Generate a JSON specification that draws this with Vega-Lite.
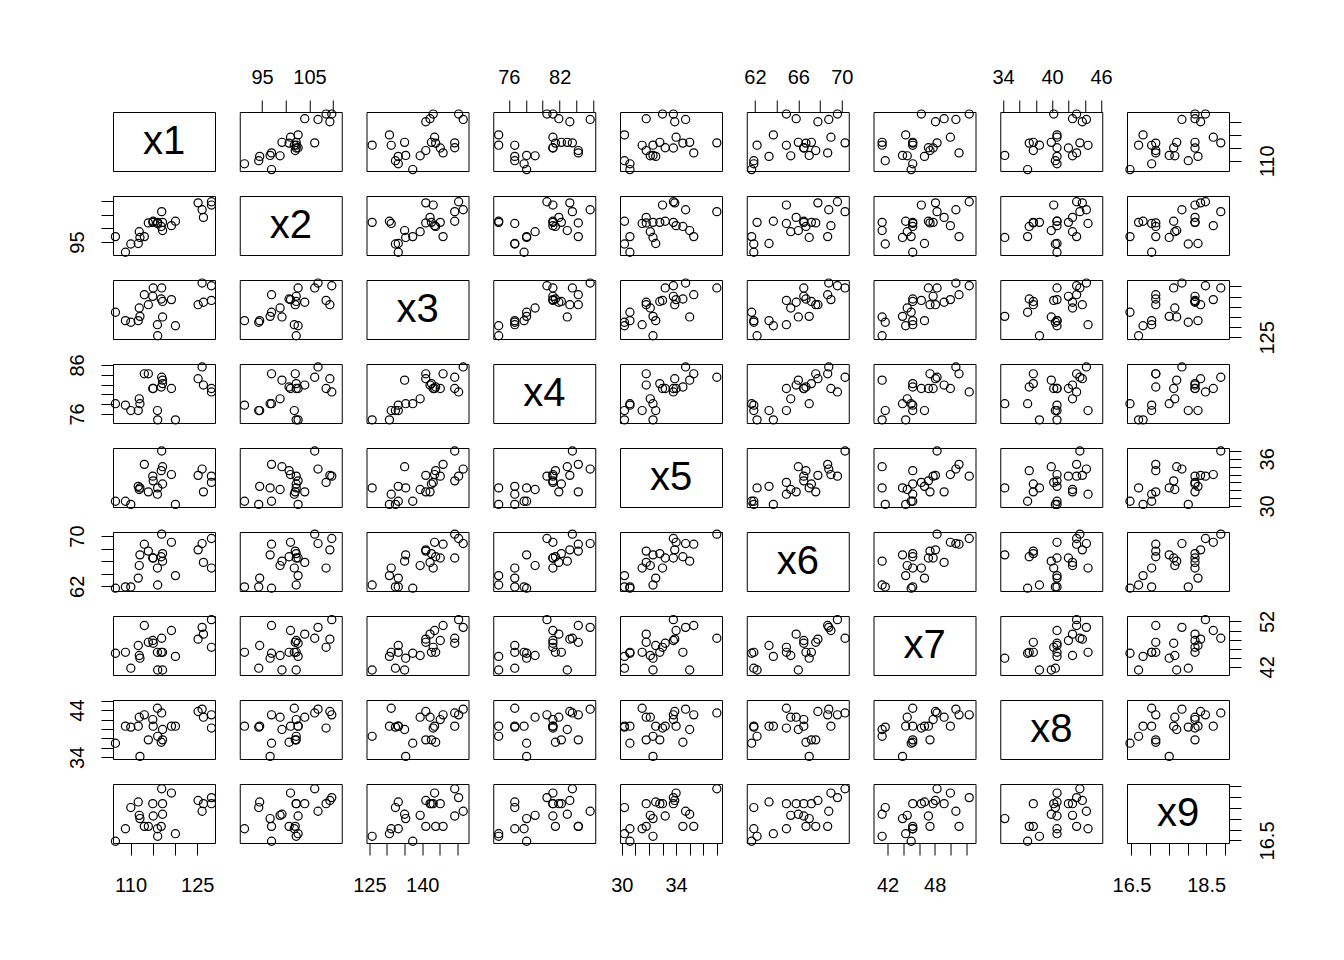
{
"$schema":"https://vega.github.io/schema/vega-lite/v6.json",
"background":"white",
"padding":{"left":66,"top":66,"right":5,"bottom":5},
"config":{
"view":{"stroke":"black","strokeWidth":1,"continuousWidth":102,"continuousHeight":59},
"point":{"shape":"circle","size":66,"filled":false,"color":"black","strokeWidth":1.2,"opacity":1},
"text":{"fontSize":40,"font":"Liberation Sans","color":"black"},
"axis":{"grid":false,"domain":false,"tickColor":"black","tickWidth":1,"tickSize":12,"labelFontSize":20,"labelFont":"Liberation Sans","labelColor":"black","labelOverlap":false,"labelFlush":false,"labelBound":false},
"axisLeft":{"labelAngle":-90,"labelAlign":"center","labelBaseline":"bottom","labelPadding":14},
"axisRight":{"labelAngle":-90,"labelAlign":"center","labelBaseline":"top","labelPadding":16},
"axisTop":{"labelPadding":13},
"axisBottom":{"labelPadding":20}
},
"data":{"values":[
{"x1":106.6,"x2":97.0,"x3":137.3,"x4":78.1,"x5":30.6,"x6":61.7,"x7":45.0,"x8":37.0,"x9":16.46},
{"x1":108.85,"x2":91.3,"x3":133.2,"x4":77.8,"x5":30.6,"x6":61.9,"x7":45.2,"x8":40.6,"x9":17.04},
{"x1":110.06,"x2":94.3,"x3":132.4,"x4":76.7,"x5":30.2,"x6":61.9,"x7":41.7,"x8":40.4,"x9":18.02},
{"x1":111.73,"x2":94.5,"x3":133.2,"x4":76.7,"x5":32.5,"x6":63.3,"x7":46.7,"x8":40.6,"x9":18.28},
{"x1":111.96,"x2":98.8,"x3":139.4,"x4":79.1,"x5":32.1,"x6":65.3,"x7":44.5,"x8":42.5,"x9":17.66},
{"x1":112.11,"x2":96.7,"x3":135.3,"x4":78.1,"x5":32.3,"x6":67.0,"x7":43.9,"x8":34.2,"x9":17.51},
{"x1":113.1,"x2":97.0,"x3":145.9,"x4":84.2,"x5":35.3,"x6":68.7,"x7":51.1,"x8":43.0,"x9":17.15},
{"x1":114.0,"x2":102.0,"x3":141.0,"x4":84.2,"x5":31.8,"x6":67.6,"x7":47.4,"x8":37.7,"x9":17.15},
{"x1":115.0,"x2":102.2,"x3":145.1,"x4":81.2,"x5":33.8,"x6":66.5,"x7":47.8,"x8":42.0,"x9":18.2},
{"x1":115.1,"x2":102.6,"x3":149.2,"x4":81.2,"x5":33.2,"x6":66.5,"x7":47.2,"x8":40.6,"x9":17.63},
{"x1":116.05,"x2":101.8,"x3":131.2,"x4":76.7,"x5":31.5,"x6":64.9,"x7":45.2,"x8":44.4,"x9":17.04},
{"x1":116.1,"x2":102.2,"x3":125.8,"x4":74.8,"x5":32.3,"x6":62.2,"x7":41.3,"x8":38.45,"x9":16.69},
{"x1":116.9,"x2":100.7,"x3":143.8,"x4":81.5,"x5":34.5,"x6":66.7,"x7":45.2,"x8":37.2,"x9":17.15},
{"x1":117.0,"x2":106.1,"x3":149.2,"x4":83.5,"x5":37.0,"x6":70.3,"x7":48.3,"x8":43.4,"x9":18.89},
{"x1":117.2,"x2":99.2,"x3":135.0,"x4":82.9,"x5":35.0,"x6":66.0,"x7":41.3,"x8":39.9,"x9":17.71},
{"x1":117.2,"x2":102.2,"x3":142.6,"x4":82.2,"x5":32.8,"x6":67.2,"x7":45.2,"x8":37.7,"x9":18.2},
{"x1":119.2,"x2":101.0,"x3":143.5,"x4":81.2,"x5":34.0,"x6":69.0,"x7":50.0,"x8":40.6,"x9":18.69},
{"x1":120.1,"x2":102.6,"x3":130.7,"x4":74.8,"x5":30.2,"x6":63.7,"x7":44.3,"x8":40.6,"x9":16.81},
{"x1":125.2,"x2":109.3,"x3":141.0,"x4":83.2,"x5":33.9,"x6":67.8,"x7":48.1,"x8":43.7,"x9":18.35},
{"x1":126.1,"x2":106.8,"x3":151.6,"x4":85.6,"x5":34.7,"x6":68.8,"x7":50.7,"x8":44.2,"x9":17.85},
{"x1":126.4,"x2":104.0,"x3":142.2,"x4":81.9,"x5":31.8,"x6":65.8,"x7":49.2,"x8":42.5,"x9":18.2},
{"x1":128.2,"x2":109.7,"x3":150.3,"x4":80.5,"x5":33.8,"x6":69.6,"x7":52.4,"x8":43.0,"x9":18.48},
{"x1":128.2,"x2":108.5,"x3":143.1,"x4":81.2,"x5":33.0,"x6":64.9,"x7":46.3,"x8":40.2,"x9":18.2}
]},
"columns":9,
"spacing":{"row":25,"column":24.75},
"bounds":"flush",
"concat":[
{"data":{"values":[{"t":"x1","c":0.5}]},"mark":"text","encoding":{"text":{"field":"t"},"x":{"field":"c","type":"quantitative","scale":{"domain":[0,1]},"axis":null},"y":{"field":"c","type":"quantitative","scale":{"domain":[0,1]},"axis":null}}},
{"mark":"point","encoding":{"x":{"field":"x2","type":"quantitative","scale":{"domain":[90.3,111.8],"nice":false,"zero":false},"axis":{"orient":"top","title":null,"values":[95,100,105,110],"labelExpr":"datum.value==95||datum.value==105?datum.label:''"}},"y":{"field":"x1","type":"quantitative","scale":{"domain":[106.05,129],"nice":false,"zero":false},"axis":null}}},
{"mark":"point","encoding":{"x":{"field":"x3","type":"quantitative","scale":{"domain":[124.2,153.1],"nice":false,"zero":false},"axis":null},"y":{"field":"x1","type":"quantitative","scale":{"domain":[106.05,129],"nice":false,"zero":false},"axis":null}}},
{"mark":"point","encoding":{"x":{"field":"x4","type":"quantitative","scale":{"domain":[74.16,86.2],"nice":false,"zero":false},"axis":{"orient":"top","title":null,"values":[76,78,80,82,84,86],"labelExpr":"datum.value==76||datum.value==82?datum.label:''"}},"y":{"field":"x1","type":"quantitative","scale":{"domain":[106.05,129],"nice":false,"zero":false},"axis":null}}},
{"mark":"point","encoding":{"x":{"field":"x5","type":"quantitative","scale":{"domain":[29.87,37.38],"nice":false,"zero":false},"axis":null},"y":{"field":"x1","type":"quantitative","scale":{"domain":[106.05,129],"nice":false,"zero":false},"axis":null}}},
{"mark":"point","encoding":{"x":{"field":"x6","type":"quantitative","scale":{"domain":[61.25,70.64],"nice":false,"zero":false},"axis":{"orient":"top","title":null,"values":[62,64,66,68,70],"labelExpr":"datum.value==62||datum.value==66||datum.value==70?datum.label:''"}},"y":{"field":"x1","type":"quantitative","scale":{"domain":[106.05,129],"nice":false,"zero":false},"axis":null}}},
{"mark":"point","encoding":{"x":{"field":"x7","type":"quantitative","scale":{"domain":[40.2,53.2],"nice":false,"zero":false},"axis":null},"y":{"field":"x1","type":"quantitative","scale":{"domain":[106.05,129],"nice":false,"zero":false},"axis":null}}},
{"mark":"point","encoding":{"x":{"field":"x8","type":"quantitative","scale":{"domain":[33.65,46.14],"nice":false,"zero":false},"axis":{"orient":"top","title":null,"values":[34,36,38,40,42,44,46],"labelExpr":"datum.value==34||datum.value==40||datum.value==46?datum.label:''"}},"y":{"field":"x1","type":"quantitative","scale":{"domain":[106.05,129],"nice":false,"zero":false},"axis":null}}},
{"mark":"point","encoding":{"x":{"field":"x9","type":"quantitative","scale":{"domain":[16.38,19.11],"nice":false,"zero":false},"axis":null},"y":{"field":"x1","type":"quantitative","scale":{"domain":[106.05,129],"nice":false,"zero":false},"axis":{"orient":"right","title":null,"values":[110,115,120,125],"labelExpr":"datum.value==110?datum.label:''"}}}},

{"mark":"point","encoding":{"x":{"field":"x1","type":"quantitative","scale":{"domain":[106.05,129],"nice":false,"zero":false},"axis":null},"y":{"field":"x2","type":"quantitative","scale":{"domain":[90.3,111.8],"nice":false,"zero":false},"axis":{"orient":"left","title":null,"values":[95,100,105,110],"labelExpr":"datum.value==95?datum.label:''"}}}},
{"data":{"values":[{"t":"x2","c":0.5}]},"mark":"text","encoding":{"text":{"field":"t"},"x":{"field":"c","type":"quantitative","scale":{"domain":[0,1]},"axis":null},"y":{"field":"c","type":"quantitative","scale":{"domain":[0,1]},"axis":null}}},
{"mark":"point","encoding":{"x":{"field":"x3","type":"quantitative","scale":{"domain":[124.2,153.1],"nice":false,"zero":false},"axis":null},"y":{"field":"x2","type":"quantitative","scale":{"domain":[90.3,111.8],"nice":false,"zero":false},"axis":null}}},
{"mark":"point","encoding":{"x":{"field":"x4","type":"quantitative","scale":{"domain":[74.16,86.2],"nice":false,"zero":false},"axis":null},"y":{"field":"x2","type":"quantitative","scale":{"domain":[90.3,111.8],"nice":false,"zero":false},"axis":null}}},
{"mark":"point","encoding":{"x":{"field":"x5","type":"quantitative","scale":{"domain":[29.87,37.38],"nice":false,"zero":false},"axis":null},"y":{"field":"x2","type":"quantitative","scale":{"domain":[90.3,111.8],"nice":false,"zero":false},"axis":null}}},
{"mark":"point","encoding":{"x":{"field":"x6","type":"quantitative","scale":{"domain":[61.25,70.64],"nice":false,"zero":false},"axis":null},"y":{"field":"x2","type":"quantitative","scale":{"domain":[90.3,111.8],"nice":false,"zero":false},"axis":null}}},
{"mark":"point","encoding":{"x":{"field":"x7","type":"quantitative","scale":{"domain":[40.2,53.2],"nice":false,"zero":false},"axis":null},"y":{"field":"x2","type":"quantitative","scale":{"domain":[90.3,111.8],"nice":false,"zero":false},"axis":null}}},
{"mark":"point","encoding":{"x":{"field":"x8","type":"quantitative","scale":{"domain":[33.65,46.14],"nice":false,"zero":false},"axis":null},"y":{"field":"x2","type":"quantitative","scale":{"domain":[90.3,111.8],"nice":false,"zero":false},"axis":null}}},
{"mark":"point","encoding":{"x":{"field":"x9","type":"quantitative","scale":{"domain":[16.38,19.11],"nice":false,"zero":false},"axis":null},"y":{"field":"x2","type":"quantitative","scale":{"domain":[90.3,111.8],"nice":false,"zero":false},"axis":null}}},

{"mark":"point","encoding":{"x":{"field":"x1","type":"quantitative","scale":{"domain":[106.05,129],"nice":false,"zero":false},"axis":null},"y":{"field":"x3","type":"quantitative","scale":{"domain":[124.2,153.1],"nice":false,"zero":false},"axis":null}}},
{"mark":"point","encoding":{"x":{"field":"x2","type":"quantitative","scale":{"domain":[90.3,111.8],"nice":false,"zero":false},"axis":null},"y":{"field":"x3","type":"quantitative","scale":{"domain":[124.2,153.1],"nice":false,"zero":false},"axis":null}}},
{"data":{"values":[{"t":"x3","c":0.5}]},"mark":"text","encoding":{"text":{"field":"t"},"x":{"field":"c","type":"quantitative","scale":{"domain":[0,1]},"axis":null},"y":{"field":"c","type":"quantitative","scale":{"domain":[0,1]},"axis":null}}},
{"mark":"point","encoding":{"x":{"field":"x4","type":"quantitative","scale":{"domain":[74.16,86.2],"nice":false,"zero":false},"axis":null},"y":{"field":"x3","type":"quantitative","scale":{"domain":[124.2,153.1],"nice":false,"zero":false},"axis":null}}},
{"mark":"point","encoding":{"x":{"field":"x5","type":"quantitative","scale":{"domain":[29.87,37.38],"nice":false,"zero":false},"axis":null},"y":{"field":"x3","type":"quantitative","scale":{"domain":[124.2,153.1],"nice":false,"zero":false},"axis":null}}},
{"mark":"point","encoding":{"x":{"field":"x6","type":"quantitative","scale":{"domain":[61.25,70.64],"nice":false,"zero":false},"axis":null},"y":{"field":"x3","type":"quantitative","scale":{"domain":[124.2,153.1],"nice":false,"zero":false},"axis":null}}},
{"mark":"point","encoding":{"x":{"field":"x7","type":"quantitative","scale":{"domain":[40.2,53.2],"nice":false,"zero":false},"axis":null},"y":{"field":"x3","type":"quantitative","scale":{"domain":[124.2,153.1],"nice":false,"zero":false},"axis":null}}},
{"mark":"point","encoding":{"x":{"field":"x8","type":"quantitative","scale":{"domain":[33.65,46.14],"nice":false,"zero":false},"axis":null},"y":{"field":"x3","type":"quantitative","scale":{"domain":[124.2,153.1],"nice":false,"zero":false},"axis":null}}},
{"mark":"point","encoding":{"x":{"field":"x9","type":"quantitative","scale":{"domain":[16.38,19.11],"nice":false,"zero":false},"axis":null},"y":{"field":"x3","type":"quantitative","scale":{"domain":[124.2,153.1],"nice":false,"zero":false},"axis":{"orient":"right","title":null,"values":[125,130,135,140,145,150],"labelExpr":"datum.value==125?datum.label:''"}}}},

{"mark":"point","encoding":{"x":{"field":"x1","type":"quantitative","scale":{"domain":[106.05,129],"nice":false,"zero":false},"axis":null},"y":{"field":"x4","type":"quantitative","scale":{"domain":[74.16,86.2],"nice":false,"zero":false},"axis":{"orient":"left","title":null,"values":[76,78,80,82,84,86],"labelExpr":"datum.value==76||datum.value==86?datum.label:''"}}}},
{"mark":"point","encoding":{"x":{"field":"x2","type":"quantitative","scale":{"domain":[90.3,111.8],"nice":false,"zero":false},"axis":null},"y":{"field":"x4","type":"quantitative","scale":{"domain":[74.16,86.2],"nice":false,"zero":false},"axis":null}}},
{"mark":"point","encoding":{"x":{"field":"x3","type":"quantitative","scale":{"domain":[124.2,153.1],"nice":false,"zero":false},"axis":null},"y":{"field":"x4","type":"quantitative","scale":{"domain":[74.16,86.2],"nice":false,"zero":false},"axis":null}}},
{"data":{"values":[{"t":"x4","c":0.5}]},"mark":"text","encoding":{"text":{"field":"t"},"x":{"field":"c","type":"quantitative","scale":{"domain":[0,1]},"axis":null},"y":{"field":"c","type":"quantitative","scale":{"domain":[0,1]},"axis":null}}},
{"mark":"point","encoding":{"x":{"field":"x5","type":"quantitative","scale":{"domain":[29.87,37.38],"nice":false,"zero":false},"axis":null},"y":{"field":"x4","type":"quantitative","scale":{"domain":[74.16,86.2],"nice":false,"zero":false},"axis":null}}},
{"mark":"point","encoding":{"x":{"field":"x6","type":"quantitative","scale":{"domain":[61.25,70.64],"nice":false,"zero":false},"axis":null},"y":{"field":"x4","type":"quantitative","scale":{"domain":[74.16,86.2],"nice":false,"zero":false},"axis":null}}},
{"mark":"point","encoding":{"x":{"field":"x7","type":"quantitative","scale":{"domain":[40.2,53.2],"nice":false,"zero":false},"axis":null},"y":{"field":"x4","type":"quantitative","scale":{"domain":[74.16,86.2],"nice":false,"zero":false},"axis":null}}},
{"mark":"point","encoding":{"x":{"field":"x8","type":"quantitative","scale":{"domain":[33.65,46.14],"nice":false,"zero":false},"axis":null},"y":{"field":"x4","type":"quantitative","scale":{"domain":[74.16,86.2],"nice":false,"zero":false},"axis":null}}},
{"mark":"point","encoding":{"x":{"field":"x9","type":"quantitative","scale":{"domain":[16.38,19.11],"nice":false,"zero":false},"axis":null},"y":{"field":"x4","type":"quantitative","scale":{"domain":[74.16,86.2],"nice":false,"zero":false},"axis":null}}},

{"mark":"point","encoding":{"x":{"field":"x1","type":"quantitative","scale":{"domain":[106.05,129],"nice":false,"zero":false},"axis":null},"y":{"field":"x5","type":"quantitative","scale":{"domain":[29.87,37.38],"nice":false,"zero":false},"axis":null}}},
{"mark":"point","encoding":{"x":{"field":"x2","type":"quantitative","scale":{"domain":[90.3,111.8],"nice":false,"zero":false},"axis":null},"y":{"field":"x5","type":"quantitative","scale":{"domain":[29.87,37.38],"nice":false,"zero":false},"axis":null}}},
{"mark":"point","encoding":{"x":{"field":"x3","type":"quantitative","scale":{"domain":[124.2,153.1],"nice":false,"zero":false},"axis":null},"y":{"field":"x5","type":"quantitative","scale":{"domain":[29.87,37.38],"nice":false,"zero":false},"axis":null}}},
{"mark":"point","encoding":{"x":{"field":"x4","type":"quantitative","scale":{"domain":[74.16,86.2],"nice":false,"zero":false},"axis":null},"y":{"field":"x5","type":"quantitative","scale":{"domain":[29.87,37.38],"nice":false,"zero":false},"axis":null}}},
{"data":{"values":[{"t":"x5","c":0.5}]},"mark":"text","encoding":{"text":{"field":"t"},"x":{"field":"c","type":"quantitative","scale":{"domain":[0,1]},"axis":null},"y":{"field":"c","type":"quantitative","scale":{"domain":[0,1]},"axis":null}}},
{"mark":"point","encoding":{"x":{"field":"x6","type":"quantitative","scale":{"domain":[61.25,70.64],"nice":false,"zero":false},"axis":null},"y":{"field":"x5","type":"quantitative","scale":{"domain":[29.87,37.38],"nice":false,"zero":false},"axis":null}}},
{"mark":"point","encoding":{"x":{"field":"x7","type":"quantitative","scale":{"domain":[40.2,53.2],"nice":false,"zero":false},"axis":null},"y":{"field":"x5","type":"quantitative","scale":{"domain":[29.87,37.38],"nice":false,"zero":false},"axis":null}}},
{"mark":"point","encoding":{"x":{"field":"x8","type":"quantitative","scale":{"domain":[33.65,46.14],"nice":false,"zero":false},"axis":null},"y":{"field":"x5","type":"quantitative","scale":{"domain":[29.87,37.38],"nice":false,"zero":false},"axis":null}}},
{"mark":"point","encoding":{"x":{"field":"x9","type":"quantitative","scale":{"domain":[16.38,19.11],"nice":false,"zero":false},"axis":null},"y":{"field":"x5","type":"quantitative","scale":{"domain":[29.87,37.38],"nice":false,"zero":false},"axis":{"orient":"right","title":null,"values":[30,31,32,33,34,35,36,37],"labelExpr":"datum.value==30||datum.value==36?datum.label:''"}}}},

{"mark":"point","encoding":{"x":{"field":"x1","type":"quantitative","scale":{"domain":[106.05,129],"nice":false,"zero":false},"axis":null},"y":{"field":"x6","type":"quantitative","scale":{"domain":[61.25,70.64],"nice":false,"zero":false},"axis":{"orient":"left","title":null,"values":[62,64,66,68,70],"labelExpr":"datum.value==62||datum.value==70?datum.label:''"}}}},
{"mark":"point","encoding":{"x":{"field":"x2","type":"quantitative","scale":{"domain":[90.3,111.8],"nice":false,"zero":false},"axis":null},"y":{"field":"x6","type":"quantitative","scale":{"domain":[61.25,70.64],"nice":false,"zero":false},"axis":null}}},
{"mark":"point","encoding":{"x":{"field":"x3","type":"quantitative","scale":{"domain":[124.2,153.1],"nice":false,"zero":false},"axis":null},"y":{"field":"x6","type":"quantitative","scale":{"domain":[61.25,70.64],"nice":false,"zero":false},"axis":null}}},
{"mark":"point","encoding":{"x":{"field":"x4","type":"quantitative","scale":{"domain":[74.16,86.2],"nice":false,"zero":false},"axis":null},"y":{"field":"x6","type":"quantitative","scale":{"domain":[61.25,70.64],"nice":false,"zero":false},"axis":null}}},
{"mark":"point","encoding":{"x":{"field":"x5","type":"quantitative","scale":{"domain":[29.87,37.38],"nice":false,"zero":false},"axis":null},"y":{"field":"x6","type":"quantitative","scale":{"domain":[61.25,70.64],"nice":false,"zero":false},"axis":null}}},
{"data":{"values":[{"t":"x6","c":0.5}]},"mark":"text","encoding":{"text":{"field":"t"},"x":{"field":"c","type":"quantitative","scale":{"domain":[0,1]},"axis":null},"y":{"field":"c","type":"quantitative","scale":{"domain":[0,1]},"axis":null}}},
{"mark":"point","encoding":{"x":{"field":"x7","type":"quantitative","scale":{"domain":[40.2,53.2],"nice":false,"zero":false},"axis":null},"y":{"field":"x6","type":"quantitative","scale":{"domain":[61.25,70.64],"nice":false,"zero":false},"axis":null}}},
{"mark":"point","encoding":{"x":{"field":"x8","type":"quantitative","scale":{"domain":[33.65,46.14],"nice":false,"zero":false},"axis":null},"y":{"field":"x6","type":"quantitative","scale":{"domain":[61.25,70.64],"nice":false,"zero":false},"axis":null}}},
{"mark":"point","encoding":{"x":{"field":"x9","type":"quantitative","scale":{"domain":[16.38,19.11],"nice":false,"zero":false},"axis":null},"y":{"field":"x6","type":"quantitative","scale":{"domain":[61.25,70.64],"nice":false,"zero":false},"axis":null}}},

{"mark":"point","encoding":{"x":{"field":"x1","type":"quantitative","scale":{"domain":[106.05,129],"nice":false,"zero":false},"axis":null},"y":{"field":"x7","type":"quantitative","scale":{"domain":[40.2,53.2],"nice":false,"zero":false},"axis":null}}},
{"mark":"point","encoding":{"x":{"field":"x2","type":"quantitative","scale":{"domain":[90.3,111.8],"nice":false,"zero":false},"axis":null},"y":{"field":"x7","type":"quantitative","scale":{"domain":[40.2,53.2],"nice":false,"zero":false},"axis":null}}},
{"mark":"point","encoding":{"x":{"field":"x3","type":"quantitative","scale":{"domain":[124.2,153.1],"nice":false,"zero":false},"axis":null},"y":{"field":"x7","type":"quantitative","scale":{"domain":[40.2,53.2],"nice":false,"zero":false},"axis":null}}},
{"mark":"point","encoding":{"x":{"field":"x4","type":"quantitative","scale":{"domain":[74.16,86.2],"nice":false,"zero":false},"axis":null},"y":{"field":"x7","type":"quantitative","scale":{"domain":[40.2,53.2],"nice":false,"zero":false},"axis":null}}},
{"mark":"point","encoding":{"x":{"field":"x5","type":"quantitative","scale":{"domain":[29.87,37.38],"nice":false,"zero":false},"axis":null},"y":{"field":"x7","type":"quantitative","scale":{"domain":[40.2,53.2],"nice":false,"zero":false},"axis":null}}},
{"mark":"point","encoding":{"x":{"field":"x6","type":"quantitative","scale":{"domain":[61.25,70.64],"nice":false,"zero":false},"axis":null},"y":{"field":"x7","type":"quantitative","scale":{"domain":[40.2,53.2],"nice":false,"zero":false},"axis":null}}},
{"data":{"values":[{"t":"x7","c":0.5}]},"mark":"text","encoding":{"text":{"field":"t"},"x":{"field":"c","type":"quantitative","scale":{"domain":[0,1]},"axis":null},"y":{"field":"c","type":"quantitative","scale":{"domain":[0,1]},"axis":null}}},
{"mark":"point","encoding":{"x":{"field":"x8","type":"quantitative","scale":{"domain":[33.65,46.14],"nice":false,"zero":false},"axis":null},"y":{"field":"x7","type":"quantitative","scale":{"domain":[40.2,53.2],"nice":false,"zero":false},"axis":null}}},
{"mark":"point","encoding":{"x":{"field":"x9","type":"quantitative","scale":{"domain":[16.38,19.11],"nice":false,"zero":false},"axis":null},"y":{"field":"x7","type":"quantitative","scale":{"domain":[40.2,53.2],"nice":false,"zero":false},"axis":{"orient":"right","title":null,"values":[42,44,46,48,50,52],"labelExpr":"datum.value==42||datum.value==52?datum.label:''"}}}},

{"mark":"point","encoding":{"x":{"field":"x1","type":"quantitative","scale":{"domain":[106.05,129],"nice":false,"zero":false},"axis":null},"y":{"field":"x8","type":"quantitative","scale":{"domain":[33.65,46.14],"nice":false,"zero":false},"axis":{"orient":"left","title":null,"values":[34,36,38,40,42,44,46],"labelExpr":"datum.value==34||datum.value==44?datum.label:''"}}}},
{"mark":"point","encoding":{"x":{"field":"x2","type":"quantitative","scale":{"domain":[90.3,111.8],"nice":false,"zero":false},"axis":null},"y":{"field":"x8","type":"quantitative","scale":{"domain":[33.65,46.14],"nice":false,"zero":false},"axis":null}}},
{"mark":"point","encoding":{"x":{"field":"x3","type":"quantitative","scale":{"domain":[124.2,153.1],"nice":false,"zero":false},"axis":null},"y":{"field":"x8","type":"quantitative","scale":{"domain":[33.65,46.14],"nice":false,"zero":false},"axis":null}}},
{"mark":"point","encoding":{"x":{"field":"x4","type":"quantitative","scale":{"domain":[74.16,86.2],"nice":false,"zero":false},"axis":null},"y":{"field":"x8","type":"quantitative","scale":{"domain":[33.65,46.14],"nice":false,"zero":false},"axis":null}}},
{"mark":"point","encoding":{"x":{"field":"x5","type":"quantitative","scale":{"domain":[29.87,37.38],"nice":false,"zero":false},"axis":null},"y":{"field":"x8","type":"quantitative","scale":{"domain":[33.65,46.14],"nice":false,"zero":false},"axis":null}}},
{"mark":"point","encoding":{"x":{"field":"x6","type":"quantitative","scale":{"domain":[61.25,70.64],"nice":false,"zero":false},"axis":null},"y":{"field":"x8","type":"quantitative","scale":{"domain":[33.65,46.14],"nice":false,"zero":false},"axis":null}}},
{"mark":"point","encoding":{"x":{"field":"x7","type":"quantitative","scale":{"domain":[40.2,53.2],"nice":false,"zero":false},"axis":null},"y":{"field":"x8","type":"quantitative","scale":{"domain":[33.65,46.14],"nice":false,"zero":false},"axis":null}}},
{"data":{"values":[{"t":"x8","c":0.5}]},"mark":"text","encoding":{"text":{"field":"t"},"x":{"field":"c","type":"quantitative","scale":{"domain":[0,1]},"axis":null},"y":{"field":"c","type":"quantitative","scale":{"domain":[0,1]},"axis":null}}},
{"mark":"point","encoding":{"x":{"field":"x9","type":"quantitative","scale":{"domain":[16.38,19.11],"nice":false,"zero":false},"axis":null},"y":{"field":"x8","type":"quantitative","scale":{"domain":[33.65,46.14],"nice":false,"zero":false},"axis":null}}},

{"mark":"point","encoding":{"x":{"field":"x1","type":"quantitative","scale":{"domain":[106.05,129],"nice":false,"zero":false},"axis":{"orient":"bottom","title":null,"values":[110,115,120,125],"labelExpr":"datum.value==110||datum.value==125?datum.label:''"}},"y":{"field":"x9","type":"quantitative","scale":{"domain":[16.38,19.11],"nice":false,"zero":false},"axis":null}}},
{"mark":"point","encoding":{"x":{"field":"x2","type":"quantitative","scale":{"domain":[90.3,111.8],"nice":false,"zero":false},"axis":null},"y":{"field":"x9","type":"quantitative","scale":{"domain":[16.38,19.11],"nice":false,"zero":false},"axis":null}}},
{"mark":"point","encoding":{"x":{"field":"x3","type":"quantitative","scale":{"domain":[124.2,153.1],"nice":false,"zero":false},"axis":{"orient":"bottom","title":null,"values":[125,130,135,140,145,150],"labelExpr":"datum.value==125||datum.value==140?datum.label:''"}},"y":{"field":"x9","type":"quantitative","scale":{"domain":[16.38,19.11],"nice":false,"zero":false},"axis":null}}},
{"mark":"point","encoding":{"x":{"field":"x4","type":"quantitative","scale":{"domain":[74.16,86.2],"nice":false,"zero":false},"axis":null},"y":{"field":"x9","type":"quantitative","scale":{"domain":[16.38,19.11],"nice":false,"zero":false},"axis":null}}},
{"mark":"point","encoding":{"x":{"field":"x5","type":"quantitative","scale":{"domain":[29.87,37.38],"nice":false,"zero":false},"axis":{"orient":"bottom","title":null,"values":[30,31,32,33,34,35,36,37],"labelExpr":"datum.value==30||datum.value==34?datum.label:''"}},"y":{"field":"x9","type":"quantitative","scale":{"domain":[16.38,19.11],"nice":false,"zero":false},"axis":null}}},
{"mark":"point","encoding":{"x":{"field":"x6","type":"quantitative","scale":{"domain":[61.25,70.64],"nice":false,"zero":false},"axis":null},"y":{"field":"x9","type":"quantitative","scale":{"domain":[16.38,19.11],"nice":false,"zero":false},"axis":null}}},
{"mark":"point","encoding":{"x":{"field":"x7","type":"quantitative","scale":{"domain":[40.2,53.2],"nice":false,"zero":false},"axis":{"orient":"bottom","title":null,"values":[42,44,46,48,50,52],"labelExpr":"datum.value==42||datum.value==48?datum.label:''"}},"y":{"field":"x9","type":"quantitative","scale":{"domain":[16.38,19.11],"nice":false,"zero":false},"axis":null}}},
{"mark":"point","encoding":{"x":{"field":"x8","type":"quantitative","scale":{"domain":[33.65,46.14],"nice":false,"zero":false},"axis":null},"y":{"field":"x9","type":"quantitative","scale":{"domain":[16.38,19.11],"nice":false,"zero":false},"axis":null}}},
{"data":{"values":[{"t":"x9","c":17.745}]},"mark":"text","encoding":{"text":{"field":"t"},"x":{"field":"c","type":"quantitative","scale":{"domain":[16.38,19.11],"nice":false,"zero":false},"axis":{"orient":"bottom","title":null,"values":[16.5,17,17.5,18,18.5,19],"labelExpr":"datum.value==16.5||datum.value==18.5?datum.label:''"}},"y":{"field":"c","type":"quantitative","scale":{"domain":[16.38,19.11],"nice":false,"zero":false},"axis":{"orient":"right","title":null,"values":[16.5,17,17.5,18,18.5,19],"labelExpr":"datum.value==16.5?datum.label:''"}}}}
]
}
